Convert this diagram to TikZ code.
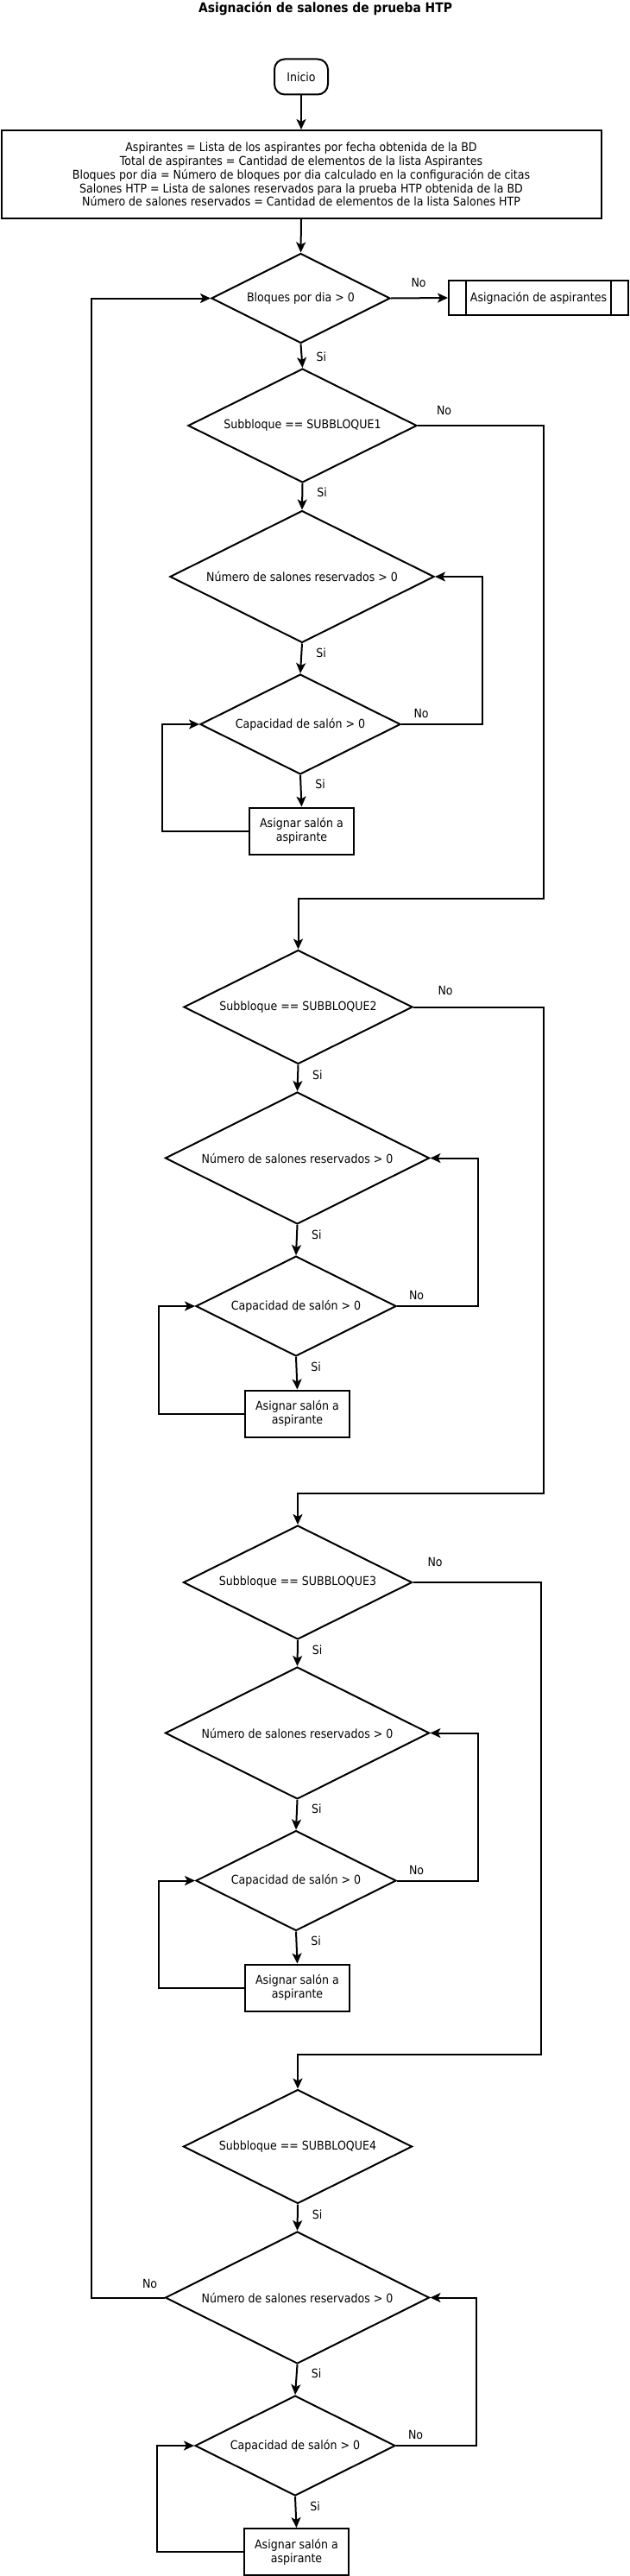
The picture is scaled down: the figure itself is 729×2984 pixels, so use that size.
\documentclass[tikz,border=0pt]{standalone}
\usepackage{fontspec}
\setmainfont{DejaVu Sans}[FakeStretch=0.9]
\usetikzlibrary{shapes.geometric,arrows.meta,positioning}

\tikzset{
  linea/.style={line width=2pt},
  flecha/.style={linea,-{Stealth[length=12pt,width=11pt,inset=3pt]}},
  texto/.style={font=\fontsize{14}{15.8}\selectfont},
  decision/.style={diamond,draw,linea,texto,inner sep=0pt,aspect=2},
  proceso/.style={rectangle,draw,linea,texto,align=center,inner sep=0pt},
  etiqueta/.style={texto,inner sep=0pt},
  si/.style={etiqueta,anchor=west,xshift=16pt},
  no/.style={etiqueta,at start,anchor=south west},
}

\begin{document}
\begin{tikzpicture}[x=1pt,y=-1pt]
\useasboundingbox (0,0) rectangle (729,2984);

\node[font=\bfseries\fontsize{15.4}{17}\selectfont] (titulo) at (377,10.5) {Asignación de salones de prueba HTP};

\node[proceso,rounded corners=12pt,minimum width=62pt,minimum height=41pt] (inicio) at (349,89) {Inicio};
\node[proceso,minimum width=695pt,minimum height=102pt] (datos) at (349,202) {Aspirantes = Lista de los aspirantes por fecha obtenida de la BD\\
Total de aspirantes = Cantidad de elementos de la lista Aspirantes\\
Bloques por dia = Número de bloques por dia calculado en la configuración de citas\\
Salones HTP = Lista de salones reservados para la prueba HTP obtenida de la BD\\
Número de salones reservados = Cantidad de elementos de la lista Salones HTP};

\node[decision,minimum width=207pt,minimum height=104pt] (bloques) at (348.5,345.5) {Bloques por dia > 0};
\node[proceso,minimum width=208pt,minimum height=40pt] (asigna) at (624,345) {Asignación de aspirantes};
\draw[linea] ([xshift=21pt]asigna.north west) -- ([xshift=21pt]asigna.south west);
\draw[linea] ([xshift=-21pt]asigna.north east) -- ([xshift=-21pt]asigna.south east);

% subbloque 1
\node[decision,minimum width=265pt,minimum height=132pt] (sub1) at (350.5,493) {Subbloque == SUBBLOQUE1};
\node[decision,minimum width=306pt,minimum height=153pt] (num1) at (350,668) {Número de salones reservados > 0};
\node[decision,minimum width=232pt,minimum height=116pt] (cap1) at (348,839) {Capacidad de salón > 0};
\node[proceso,minimum width=121pt,minimum height=54pt] (asig1) at (349.5,962.5) {Asignar salón a\\aspirante};

% subbloque 2
\node[decision,minimum width=265pt,minimum height=132pt] (sub2) at (345.5,1166.5) {Subbloque == SUBBLOQUE2};
\node[decision,minimum width=306pt,minimum height=153pt] (num2) at (344.5,1341.5) {Número de salones reservados > 0};
\node[decision,minimum width=232pt,minimum height=116pt] (cap2) at (343,1513) {Capacidad de salón > 0};
\node[proceso,minimum width=121pt,minimum height=54pt] (asig2) at (344.5,1637.5) {Asignar salón a\\aspirante};

% subbloque 3
\node[decision,minimum width=265pt,minimum height=132pt] (sub3) at (345,1833) {Subbloque == SUBBLOQUE3};
\node[decision,minimum width=306pt,minimum height=153pt] (num3) at (344.5,2007.5) {Número de salones reservados > 0};
\node[decision,minimum width=232pt,minimum height=116pt] (cap3) at (343,2178.5) {Capacidad de salón > 0};
\node[proceso,minimum width=121pt,minimum height=54pt] (asig3) at (344.5,2302.5) {Asignar salón a\\aspirante};

% subbloque 4
\node[decision,minimum width=265pt,minimum height=132pt] (sub4) at (345,2486.5) {Subbloque == SUBBLOQUE4};
\node[decision,minimum width=306pt,minimum height=153pt] (num4) at (344.5,2661.5) {Número de salones reservados > 0};
\node[decision,minimum width=232pt,minimum height=116pt] (cap4) at (342,2833) {Capacidad de salón > 0};
\node[proceso,minimum width=121pt,minimum height=54pt] (asig4) at (343.5,2956) {Asignar salón a\\aspirante};

\coordinate (giro1) at (629.5,1041);
\coordinate (giro2) at (629.5,1729.5);
\coordinate (giro3) at (626.7,2380);

\draw[flecha] (inicio.south) -- (datos.north);
\draw[flecha] (datos.south) -- (bloques.north);
\draw[flecha] (bloques.east) -- node[no,xshift=22.5pt,yshift=12pt]{No} (asigna.west);
\draw[flecha] (bloques.south) -- node[si,pos=.54]{Si} (sub1.north);

\draw[flecha] (sub1.south) -- node[si,pos=.35]{Si} (num1.north);
\draw[flecha] (num1.south) -- node[si,pos=.31]{Si} (cap1.north);
\draw[flecha] (cap1.south) -- node[si,pos=.29]{Si} (asig1.north);
\draw[flecha] (cap1.east) -- node[no,xshift=13.5pt,yshift=6pt]{No} ++(93.5,0) |- (num1.east);
\draw[flecha] (asig1.west) -- ++(-100,0) |- (cap1.west);
\draw[flecha] (sub1.east) -- node[no,xshift=21pt,yshift=11pt]{No} (sub1.east -| giro1) -- (giro1) -| (sub2.north);

\draw[flecha] (sub2.south) -- node[si,pos=.37]{Si} (num2.north);
\draw[flecha] (num2.south) -- node[si,pos=.32]{Si} (cap2.north);
\draw[flecha] (cap2.south) -- node[si,pos=.29]{Si} (asig2.north);
\draw[flecha] (cap2.east) -- node[no,xshift=13pt,yshift=6.3pt]{No} ++(93.5,0) |- (num2.east);
\draw[flecha] (asig2.west) -- ++(-99.4,0) |- (cap2.west);
\draw[flecha] (sub2.east) -- node[no,xshift=27.5pt,yshift=13pt]{No} (sub2.east -| giro2) -- (giro2) -| (sub3.north);

\draw[flecha] (sub3.south) -- node[si,pos=.36]{Si} (num3.north);
\draw[flecha] (num3.south) -- node[si,pos=.31]{Si} (cap3.north);
\draw[flecha] (cap3.south) -- node[si,pos=.29]{Si} (asig3.north);
\draw[flecha] (cap3.east) -- node[no,xshift=13pt,yshift=6.3pt]{No} ++(93.5,0) |- (num3.east);
\draw[flecha] (asig3.west) -- ++(-99.4,0) |- (cap3.west);
\draw[flecha] (sub3.east) -- node[no,xshift=16pt,yshift=17.5pt]{No} (sub3.east -| giro3) -- (giro3) -| (sub4.north);

\draw[flecha] (sub4.south) -- node[si,pos=.38]{Si} (num4.north);
\draw[flecha] (num4.south) -- node[si,pos=.3]{Si} (cap4.north);
\draw[flecha] (cap4.south) -- node[si,pos=.3]{Si} (asig4.north);
\draw[flecha] (cap4.east) -- node[no,xshift=13pt,yshift=6.3pt]{No} ++(93,0) |- (num4.east);
\draw[flecha] (asig4.west) -- ++(-100,0) |- (cap4.west);
\draw[flecha] (num4.west) -- node[etiqueta,at start,anchor=south east,xshift=-7.3pt,yshift=9.8pt]{No} ++(-84.5,0) |- (bloques.west);
\end{tikzpicture}
\end{document}
